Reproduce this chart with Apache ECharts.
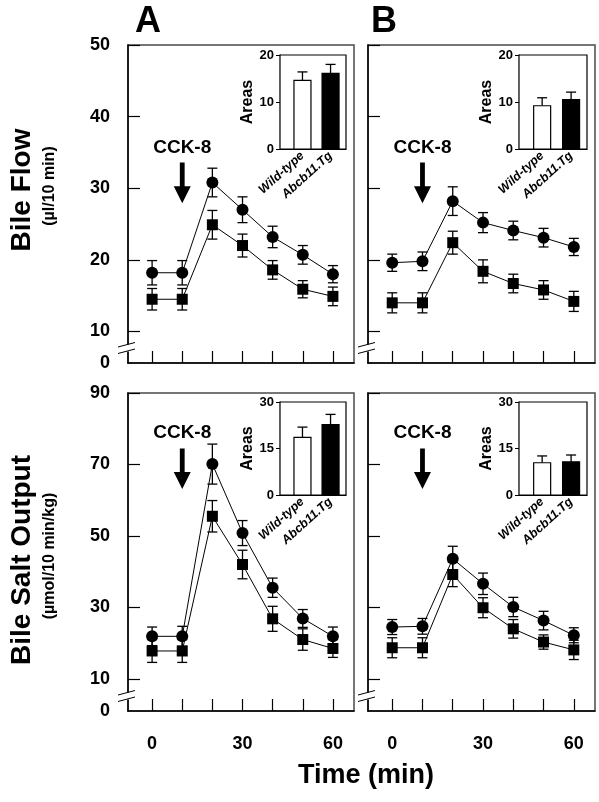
<!DOCTYPE html>
<html><head><meta charset="utf-8">
<script src="https://cdn.jsdelivr.net/npm/echarts@6/dist/echarts.min.js"></script>
<style>html,body{margin:0;padding:0;background:#fff}#c{width:599px;height:802px}</style>
</head><body><div id="c"></div><script>
// ---------- data ----------
const times = [0, 10, 20, 30, 40, 50, 60];
// Bile flow, panel A
const flowA_circ    = [18.2, 18.2, 30.8, 27.0, 23.2, 20.7, 18.0];
const flowA_circErr = [1.7, 1.7, 2.0, 1.8, 1.5, 1.3, 1.2];
const flowA_sq      = [14.5, 14.5, 24.9, 22.0, 18.6, 15.9, 14.9];
const flowA_sqErr   = [1.5, 1.5, 2.0, 1.6, 1.3, 1.2, 1.3];
// Bile flow, panel B
const flowB_circ    = [19.6, 19.8, 28.2, 25.2, 24.1, 23.1, 21.8];
const flowB_circErr = [1.2, 1.3, 2.0, 1.4, 1.3, 1.3, 1.2];
const flowB_sq      = [14.0, 14.0, 22.4, 18.4, 16.7, 15.8, 14.2];
const flowB_sqErr   = [1.4, 1.4, 1.6, 1.6, 1.3, 1.3, 1.4];
// Bile salt output, panel A
const saltA_circ    = [21.9, 21.9, 70.1, 50.8, 35.5, 26.9, 21.9];
const saltA_circErr = [2.6, 2.8, 5.6, 3.5, 2.7, 2.5, 2.6];
const saltA_sq      = [17.8, 17.8, 55.5, 42.0, 26.8, 21.0, 18.5];
const saltA_sqErr   = [3.2, 3.2, 4.4, 4.0, 3.5, 3.0, 2.5];
// Bile salt output, panel B
const saltB_circ    = [24.5, 24.7, 43.6, 36.6, 30.1, 26.3, 22.2];
const saltB_circErr = [2.1, 2.2, 3.5, 3.0, 2.7, 2.6, 2.1];
const saltB_sq      = [18.7, 18.7, 39.2, 29.9, 24.0, 20.3, 18.1];
const saltB_sqErr   = [2.8, 2.8, 3.4, 2.8, 2.6, 2.0, 2.7];
// Inset areas (Wild-type, Abcb11.Tg)
const insetGroups = ['Wild-type', 'Abcb11.Tg'];
const flowA_area = [14.6, 16.1], flowA_areaErr = [1.8, 1.9];
const flowB_area = [9.2, 10.5],  flowB_areaErr = [1.7, 1.6];
const saltA_area = [18.6, 22.7], saltA_areaErr = [3.3, 3.3];
const saltB_area = [10.4, 10.7], saltB_areaErr = [2.2, 2.2];
// ticks
const xTicks = [0, 10, 20, 30, 40, 50, 60];
const xLabels = [0, 30, 60];
const flowTicks = [10, 20, 30, 40, 50];
const saltTicks = [10, 30, 50, 70, 90];
const flowAreaTicks = [0, 10, 20];
const saltAreaTicks = [0, 15, 30];

// ---------- layout ----------
const FONT = '"Liberation Sans", Arial, sans-serif';
const mainGrids = [
  {left: 128, top: 45, width: 226, height: 318},
  {left: 368, top: 45, width: 227, height: 318},
  {left: 128, top: 393, width: 226, height: 318},
  {left: 368, top: 393, width: 227, height: 318}
];
const insetGrids = [
  {left: 280, top: 55, width: 66, height: 94},
  {left: 519, top: 55, width: 68, height: 94},
  {left: 280, top: 402, width: 66, height: 93},
  {left: 519, top: 402, width: 68, height: 93}
];
const panels = [
  {circ: flowA_circ, circErr: flowA_circErr, sq: flowA_sq, sqErr: flowA_sqErr, ymin: 5.6, ymax: 50, ticks: flowTicks, yLab: true, xLab: false,
   area: flowA_area, areaErr: flowA_areaErr, amax: 20, aticks: flowAreaTicks, cck: [35.7, 33.6, 27.9]},
  {circ: flowB_circ, circErr: flowB_circErr, sq: flowB_sq, sqErr: flowB_sqErr, ymin: 5.6, ymax: 50, ticks: flowTicks, yLab: false, xLab: false,
   area: flowB_area, areaErr: flowB_areaErr, amax: 20, aticks: flowAreaTicks, cck: [35.7, 33.6, 27.9]},
  {circ: saltA_circ, circErr: saltA_circErr, sq: saltA_sq, sqErr: saltA_sqErr, ymin: 1, ymax: 90, ticks: saltTicks, yLab: true, xLab: true,
   area: saltA_area, areaErr: saltA_areaErr, amax: 30, aticks: saltAreaTicks, cck: [78.8, 74.5, 63.1]},
  {circ: saltB_circ, circErr: saltB_circErr, sq: saltB_sq, sqErr: saltB_sqErr, ymin: 1, ymax: 90, ticks: saltTicks, yLab: false, xLab: true,
   area: saltB_area, areaErr: saltB_areaErr, amax: 30, aticks: saltAreaTicks, cck: [78.8, 74.5, 63.1]}
];

const grid = [], xAxis = [], yAxis = [], series = [];

function errRender(params, api) {
  const t = api.value(0), v = api.value(1), e = api.value(2);
  const p1 = api.coord([t, v + e]), p2 = api.coord([t, v - e]);
  const st = {stroke: '#000', lineWidth: 1.3};
  const w = 5;
  return {type: 'group', children: [
    {type: 'line', shape: {x1: p1[0], y1: p1[1], x2: p2[0], y2: p2[1]}, style: st},
    {type: 'line', shape: {x1: p1[0] - w, y1: p1[1], x2: p1[0] + w, y2: p1[1]}, style: st},
    {type: 'line', shape: {x1: p2[0] - w, y1: p2[1], x2: p2[0] + w, y2: p2[1]}, style: st}
  ]};
}
function barRender(params, api) {
  const x = api.value(0), v = api.value(1), e = api.value(2), idx = params.dataIndex;
  const base = api.coord([x, 0]), top = api.coord([x, v]), et = api.coord([x, v + e]);
  const bw = 17;
  return {type: 'group', children: [
    {type: 'line', shape: {x1: top[0], y1: top[1], x2: et[0], y2: et[1]}, style: {stroke: '#000', lineWidth: 1.3}},
    {type: 'line', shape: {x1: et[0] - 5, y1: et[1], x2: et[0] + 5, y2: et[1]}, style: {stroke: '#000', lineWidth: 1.3}},
    {type: 'rect', shape: {x: top[0] - bw / 2, y: top[1], width: bw, height: base[1] - top[1]},
     style: {fill: idx === 0 ? '#fff' : '#000', stroke: '#000', lineWidth: 1.2}}
  ]};
}

panels.forEach((p, i) => {
  grid.push(Object.assign({show: true, borderColor: '#4a4a4a', borderWidth: 1.5, containLabel: false}, mainGrids[i]));
  xAxis.push({
    gridIndex: i, type: 'value', min: -8, max: 67,
    axisLine: {show: true, onZero: false, lineStyle: {color: '#000', width: 1.5}},
    axisTick: {show: true, inside: true, length: 12, customValues: xTicks, lineStyle: {color: '#000', width: 1.2}},
    axisLabel: {show: p.xLab, customValues: xLabels, margin: 24, fontFamily: FONT, fontWeight: 'bold', fontSize: 18, color: '#000'},
    splitLine: {show: false}
  });
  const ymin = p.ymin;
  yAxis.push({
    gridIndex: i, type: 'value', min: p.ymin, max: p.ymax,
    axisLine: {show: true, onZero: false, lineStyle: {color: '#000', width: 1.5}},
    axisTick: {show: true, inside: true, length: 12, customValues: p.ticks, lineStyle: {color: '#000', width: 1.2}},
    axisLabel: {show: p.yLab, customValues: [p.ymin].concat(p.ticks), margin: 18,
      formatter: v => (v === ymin ? '0' : String(v)),
      fontFamily: FONT, fontWeight: 'bold', fontSize: 18, color: '#000'},
    splitLine: {show: false}
  });
  const dCirc = times.map((t, k) => [t, p.circ[k]]);
  const dSq = times.map((t, k) => [t, p.sq[k]]);
  series.push({type: 'custom', xAxisIndex: i, yAxisIndex: i, renderItem: errRender, z: 2,
    data: times.map((t, k) => [t, p.circ[k], p.circErr[k]]).concat(times.map((t, k) => [t, p.sq[k], p.sqErr[k]]))});
  series.push({type: 'line', xAxisIndex: i, yAxisIndex: i, data: dCirc, symbol: 'circle', symbolSize: 12, z: 3,
    lineStyle: {color: '#000', width: 1}, itemStyle: {color: '#000'}, animation: false});
  series.push({type: 'line', xAxisIndex: i, yAxisIndex: i, data: dSq, symbol: 'rect', symbolSize: 11, z: 3,
    lineStyle: {color: '#000', width: 1}, itemStyle: {color: '#000'}, animation: false});
});

panels.forEach((p, i) => {
  const gi = 4 + i;
  grid.push(Object.assign({show: true, borderColor: '#000', borderWidth: 1.2, backgroundColor: '#fff', z: 5}, insetGrids[i]));
  xAxis.push({
    gridIndex: gi, type: 'value', min: 0.2, max: 2.55,
    axisLine: {show: true, onZero: false, lineStyle: {color: '#000', width: 1.2}},
    axisTick: {show: false},
    axisLabel: {show: true, customValues: [1, 2], formatter: v => insetGroups[Math.round(v) - 1], rotate: 42, margin: 5,
      fontFamily: FONT, fontWeight: 'bold', fontStyle: 'italic', fontSize: 12.5, color: '#000'},
    splitLine: {show: false}
  });
  yAxis.push({
    gridIndex: gi, type: 'value', min: 0, max: p.amax,
    name: 'Areas', nameLocation: 'middle', nameGap: 24, nameRotate: 90,
    nameTextStyle: {fontFamily: FONT, fontWeight: 'bold', fontSize: 16, color: '#000'},
    axisLine: {show: true, onZero: false, lineStyle: {color: '#000', width: 1.2}},
    axisTick: {show: true, inside: false, length: 4, customValues: p.aticks, lineStyle: {color: '#000'}},
    axisLabel: {show: true, customValues: p.aticks, margin: 6, fontFamily: FONT, fontWeight: 'bold', fontSize: 13, color: '#000'},
    splitLine: {show: false}
  });
  series.push({type: 'custom', xAxisIndex: gi, yAxisIndex: gi, renderItem: barRender, z: 6,
    data: p.area.map((v, k) => [k + 1, v, p.areaErr[k]])});
});

const chart = echarts.init(document.getElementById('c'), null, {renderer: 'canvas'});
chart.setOption({animation: false, backgroundColor: '#fff', grid, xAxis, yAxis, series});

// ---------- annotations ----------
const g = [];
const txt = (x, y, s, size, rot, extra) => Object.assign({type: 'text', x, y, rotation: rot || 0,
  style: {text: s, font: 'bold ' + size + 'px ' + FONT, fill: '#000', align: 'center', verticalAlign: 'middle'}, z: 20}, extra || {});
g.push(txt(148, 22, 'A', 36));
g.push(txt(384, 22, 'B', 36));
g.push(txt(22, 190, 'Bile Flow', 28, Math.PI / 2));
g.push(txt(50, 186, '(µl/10 min)', 16, Math.PI / 2));
g.push(txt(22, 560, 'Bile Salt Output', 28, Math.PI / 2));
g.push(txt(50, 556, '(µmol/10 min/kg)', 16, Math.PI / 2));
g.push(txt(366, 776, 'Time (min)', 27, 0));

panels.forEach((p, i) => {
  const tp = chart.convertToPixel({gridIndex: i}, [10, p.cck[0]]);
  g.push(txt(tp[0], tp[1], 'CCK-8', 19, 0));
  const a0 = chart.convertToPixel({gridIndex: i}, [10, p.cck[1]]);
  const a1 = chart.convertToPixel({gridIndex: i}, [10, p.cck[2]]);
  const cx = a0[0], y0 = a0[1], yt = a1[1], yh = yt - 17, sw = 2.4, hw = 8.5;
  g.push({type: 'polygon', z: 20, shape: {points: [[cx - sw, y0], [cx + sw, y0], [cx + sw, yh], [cx + hw, yh], [cx, yt], [cx - hw, yh], [cx - sw, yh]]},
    style: {fill: '#000'}});
  // axis break marks
  const ax = mainGrids[i].left, yc = mainGrids[i].top + mainGrids[i].height - 15;
  g.push({type: 'rect', z: 20, shape: {x: ax - 3, y: yc - 3.5, width: 6, height: 7}, style: {fill: '#fff'}});
  g.push({type: 'line', z: 21, shape: {x1: ax - 10, y1: yc - 1, x2: ax + 7, y2: yc - 5.5}, style: {stroke: '#000', lineWidth: 1}});
  g.push({type: 'line', z: 21, shape: {x1: ax - 10, y1: yc + 5.5, x2: ax + 7, y2: yc + 1}, style: {stroke: '#000', lineWidth: 1}});
});
chart.setOption({graphic: g});
</script></body></html>
